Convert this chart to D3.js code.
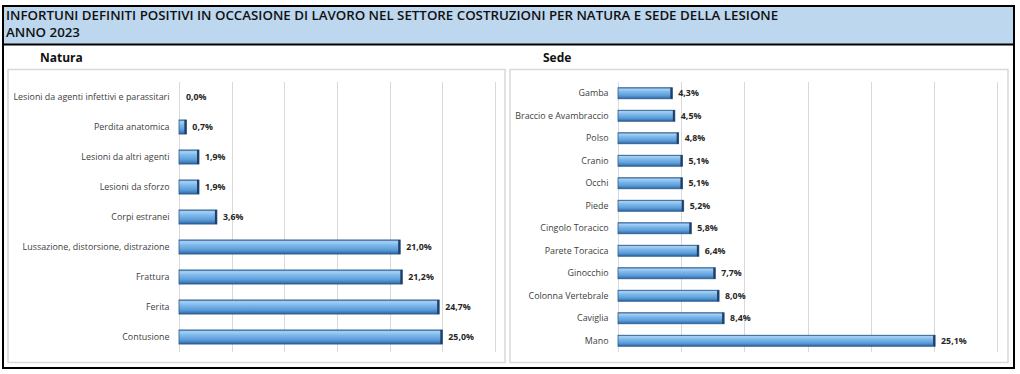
<!DOCTYPE html>
<html><head><meta charset="utf-8">
<script src="https://cdn.jsdelivr.net/npm/d3@7"></script>
<style>
body{margin:0;background:#fff;}
svg{display:block;font-family:"Open Sans",sans-serif;}
</style></head>
<body>
<svg id="c" width="1020" height="374"></svg>
<script>
const titleLines = ["INFORTUNI DEFINITI POSITIVI IN OCCASIONE DI LAVORO NEL SETTORE COSTRUZIONI PER NATURA E SEDE DELLA LESIONE","ANNO 2023"];
const naturaTitle = "Natura";
const naturaCats = ["Lesioni da agenti infettivi e parassitari","Perdita anatomica","Lesioni da altri agenti","Lesioni da sforzo","Corpi estranei","Lussazione, distorsione, distrazione","Frattura","Ferita","Contusione"];
const naturaVals = [0.0,0.7,1.9,1.9,3.6,21.0,21.2,24.7,25.0];
const sedeTitle = "Sede";
const sedeCats = ["Gamba","Braccio e Avambraccio","Polso","Cranio","Occhi","Piede","Cingolo Toracico","Parete Toracica","Ginocchio","Colonna Vertebrale","Caviglia","Mano"];
const sedeVals = [4.3,4.5,4.8,5.1,5.1,5.2,5.8,6.4,7.7,8.0,8.4,25.1];
const gridTicks = [0,5,10,15,20,25,30];

const svg = d3.select("#c");
const defs = svg.append("defs");
const g = defs.append("linearGradient").attr("id","bar").attr("x1",0).attr("y1",0).attr("x2",0).attr("y2",1);
[[0,"#3f78b3"],[0.12,"#a8d1f4"],[0.35,"#80baec"],[0.7,"#5c9dd9"],[0.9,"#3d79b8"],[1,"#2a5a8e"]].forEach(([o,c])=>g.append("stop").attr("offset",o).attr("stop-color",c));

// title band
svg.append("rect").attr("x",3).attr("y",6).attr("width",1011).attr("height",38).attr("fill","#bdd7ee");
svg.append("rect").attr("x",3).attr("y",6).attr("width",1011).attr("height",362).attr("fill","none").attr("stroke","#000").attr("stroke-width",2);
svg.append("line").attr("x1",3).attr("x2",1014).attr("y1",44.5).attr("y2",44.5).attr("stroke","#000").attr("stroke-width",2);
svg.selectAll("text.title").data(titleLines).join("text").attr("class","title")
  .attr("x",6).attr("y",(d,i)=>20+i*17).attr("font-size",13.3).attr("font-weight",600).attr("fill","#111").text(d=>d);

function panel(o){
  svg.append("rect").attr("x",o.bx).attr("y",69.5).attr("width",o.bw).attr("height",293).attr("fill","#fff").attr("stroke","#d9d9d9").attr("stroke-width",1.5);
  svg.append("text").attr("x",o.tx).attr("y",62).attr("font-size",12).attr("font-weight",700).attr("fill","#111").text(o.title);
  const x = d3.scaleLinear().domain([0,30]).range([o.x0,o.x1]);
  const y = d3.scaleBand().domain(o.cats).range([82,352]).paddingInner(o.pad).paddingOuter(o.pad/2);
  const gl = svg.append("g");
  gl.selectAll("line").data(gridTicks).join("line")
    .attr("x1",d=>Math.round(x(d))+0.5).attr("x2",d=>Math.round(x(d))+0.5).attr("y1",82).attr("y2",352)
    .attr("stroke","#d9d9d9").attr("stroke-width",1);
  const ax = svg.append("g").attr("transform",`translate(${o.x0-9.5},0)`).call(d3.axisLeft(y).tickSize(0).tickPadding(0));
  ax.select(".domain").remove();
  ax.selectAll("text").attr("font-family","Open Sans").attr("font-size",8.9).attr("fill","#404040");
  const data = o.cats.map((c,i)=>({c,v:o.vals[i]}));
  const bars = svg.append("g").selectAll("g").data(data).join("g");
  bars.filter(d=>d.v>0).append("rect").attr("x",x(0)).attr("y",d=>y(d.c)).attr("width",d=>x(d.v)-x(0)).attr("height",y.bandwidth())
    .attr("fill","url(#bar)").attr("stroke","#2d5c8c").attr("stroke-width",0.8);
  bars.filter(d=>d.v>0).append("rect").attr("x",d=>x(d.v)-2).attr("y",d=>y(d.c)).attr("width",2).attr("height",y.bandwidth())
    .attr("fill","#1f3f66");
  bars.append("text").attr("x",d=>x(d.v)+(d.v>0?6:7)).attr("y",d=>y(d.c)+y.bandwidth()/2).attr("dy","0.35em")
    .attr("font-size",8.8).attr("font-weight",700).attr("fill","#262626")
    .text(d=>d3.format(".1f")(d.v).replace(".",",")+"%");
}
panel({bx:8,bw:497,tx:40,title:naturaTitle,cats:naturaCats,vals:naturaVals,x0:179,x1:495,pad:0.53});
panel({bx:510,bw:498,tx:543,title:sedeTitle,cats:sedeCats,vals:sedeVals,x0:618,x1:997,pad:0.51});
</script>
</body></html>
